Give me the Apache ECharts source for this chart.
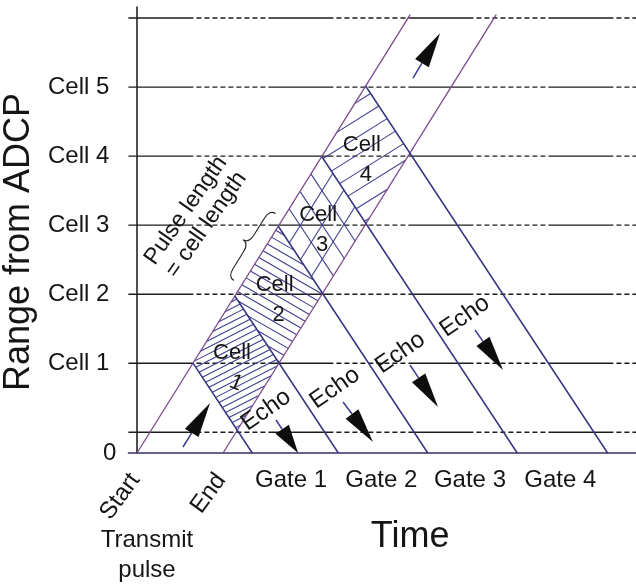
<!DOCTYPE html>
<html><head><meta charset="utf-8">
<script src="https://cdn.jsdelivr.net/npm/echarts@6/dist/echarts.min.js"></script>
<style>html,body{margin:0;padding:0;background:#fff}#chart{width:636px;height:586px}</style>
</head><body><div id="chart"></div>
<script>
// ---------------- data (time in pulse lengths, range in cell lengths) ----------------
const rangeLines = [0.3, 1.3, 2.3, 3.3, 4.3, 5.3, 6.3];
const yLabelValues = [0, 1.3, 2.3, 3.3, 4.3, 5.3];
const yLabelTexts = ['0', 'Cell 1', 'Cell 2', 'Cell 3', 'Cell 4', 'Cell 5'];
const pulseTimes = [0, 1];
const pulseNames = ['Start', 'End'];
const pulseRise = 2.0;          // range gained per unit time by the outgoing pulse
const pulseTop = 6.35;          // range where the pulse lines end
const echoBaseTimes = [1.34, 2.34, 3.38, 4.42, 5.47]; // where echo lines reach the transducer
const echoFall = 1.89;          // range lost per unit time by the echo
const gateNames = ['Gate 1', 'Gate 2', 'Gate 3', 'Gate 4'];
const gateLabelTimes = [1.79, 2.84, 3.87, 4.92];
const hatchedCells = ['Cell 1', 'Cell 2', 'Cell 3', 'Cell 4'];
const upArrows = [[0.535, 0.087, 0.849, 0.724], [3.208, 5.43, 3.522, 6.08]];
const echoArrows = [[1.616, 0.478, 1.872, 0.0], [2.395, 0.739, 2.743, 0.159],
                    [3.173, 1.275, 3.499, 0.666], [3.929, 1.782, 4.254, 1.202]];
const echoLabelPos = [[1.50, 0.62], [2.30, 0.94], [3.06, 1.45], [3.81, 1.98]];
const pulseNote = 'Pulse length\n= cell length';
const pulseNotePos = [0.686, 3.41];
const transmitNote = 'Transmit\npulse';
const transmitNotePos = [0.116, -1.48];
const braceRanges = [2.43, 3.40];

// ---------------- styles ----------------
const FONT = '"Liberation Sans", Arial, Helvetica, sans-serif';
const TXT = '#151515';
const H_COLOR = '#1c1c1c';
const PULSE_COLOR = '#7b4a8c';
const ECHO_COLOR = '#35357f';
const HATCH_COLOR = '#3f3f8f';
const hatchStyles = [
  {angles: [27], spacing: 6},
  {angles: [-30], spacing: 8},
  {lattice: 4},
  {angles: [32], spacing: 15}
];
const DASH = [65].concat(Array(9).fill([3, 5]).flat(), [3]);

// ---------------- geometry helpers ----------------
function isect(p, T) { // pulse line starting at p meets echo line ending at T
  const t = (echoFall * T + pulseRise * p) / (pulseRise + echoFall);
  return [t, pulseRise * (t - p)];
}
function hatchSegs(poly, angleDeg, spacing) {
  const a = angleDeg * Math.PI / 180;
  const n = [Math.sin(a), Math.cos(a)];
  const proj = poly.map(p => p[0] * n[0] + p[1] * n[1]);
  const lo = Math.min(...proj), hi = Math.max(...proj);
  const segs = [];
  for (let o = lo + spacing * 0.6; o < hi; o += spacing) {
    const pts = [];
    for (let i = 0; i < poly.length; i++) {
      const j = (i + 1) % poly.length;
      const da = proj[i] - o, db = proj[j] - o;
      if ((da < 0) !== (db < 0)) {
        const s = da / (da - db);
        pts.push([poly[i][0] + (poly[j][0] - poly[i][0]) * s, poly[i][1] + (poly[j][1] - poly[i][1]) * s]);
      }
    }
    if (pts.length >= 2) segs.push(pts);
  }
  return segs;
}
function lineEl(p, q, color, w) {
  return {type: 'line', shape: {x1: p[0], y1: p[1], x2: q[0], y2: q[1]}, style: {stroke: color, lineWidth: w}};
}
function textEl(x, y, text, size, rot, extra) {
  return Object.assign({type: 'text', x: x, y: y, rotation: rot || 0,
    style: Object.assign({text: text, fill: TXT, fontSize: size, fontFamily: FONT,
      align: 'center', verticalAlign: 'middle'}, extra || {})});
}

// ---------------- series ----------------
const series = [];
const xMin = -0.1, xMax = 5.8;
rangeLines.forEach(r => series.push({
  type: 'line', silent: true, symbol: 'none', animation: false, z: 1,
  data: [[xMin, r], [xMax, r]],
  lineStyle: {color: H_COLOR, width: 1.4, type: DASH}
}));
pulseTimes.forEach(p => series.push({
  type: 'line', silent: true, symbol: 'none', animation: false, z: 4,
  data: [[p, 0], [p + pulseTop / pulseRise, pulseTop]],
  lineStyle: {color: PULSE_COLOR, width: 1.3}
}));
echoBaseTimes.forEach(T => series.push({
  type: 'line', silent: true, symbol: 'none', animation: false, z: 4,
  data: [isect(pulseTimes[0], T), [T, 0]],
  lineStyle: {color: ECHO_COLOR, width: 1.5}
}));

// hatched cells
series.push({
  type: 'custom', animation: false, z: 3, silent: true,
  data: hatchedCells.map((c, i) => {
    const a = isect(pulseTimes[0], echoBaseTimes[i]), b = isect(pulseTimes[1], echoBaseTimes[i + 1]);
    return [(a[0] + b[0]) / 2, (a[1] + b[1]) / 2, i];
  }),
  renderItem: function (params, api) {
    const i = api.value(2);
    const V = [isect(pulseTimes[0], echoBaseTimes[i]), isect(pulseTimes[0], echoBaseTimes[i + 1]),
               isect(pulseTimes[1], echoBaseTimes[i + 1]), isect(pulseTimes[1], echoBaseTimes[i])].map(v => api.coord(v));
    const st = hatchStyles[i];
    const children = [];
    if (st.lattice) {
      const n = st.lattice;
      const P = (u, v) => [V[0][0] + u * (V[1][0] - V[0][0]) + v * (V[3][0] - V[0][0]),
                           V[0][1] + u * (V[1][1] - V[0][1]) + v * (V[3][1] - V[0][1])];
      for (let k = 1; k < n; k++) {
        children.push(lineEl(P(k / n, 0), P(k / n, 1), HATCH_COLOR, 1.1));
        children.push(lineEl(P(0, k / n), P(1, k / n), HATCH_COLOR, 1.1));
      }
    } else {
      st.angles.forEach(a => hatchSegs(V, a, st.spacing).forEach(s => children.push(lineEl(s[0], s[1], HATCH_COLOR, 1.1))));
    }
    const c = api.coord([api.value(0), api.value(1)]);
    const parts = hatchedCells[i].split(' ');
    children.push(textEl(c[0] - 4, c[1] - 10, parts[0], 22, 0));
    children.push(textEl(c[0], c[1] + 20, parts[1], 22, i === 0 ? -0.4 : 0));
    return {type: 'group', children: children};
  }
});

// arrows
function arrowSeries(list) {
  return {
    type: 'custom', animation: false, z: 6, silent: true,
    data: list,
    renderItem: function (params, api) {
      const p = api.coord([api.value(0), api.value(1)]);
      const q = api.coord([api.value(2), api.value(3)]);
      const L = Math.hypot(q[0] - p[0], q[1] - p[1]);
      const d = [(q[0] - p[0]) / L, (q[1] - p[1]) / L];
      const nrm = [-d[1], d[0]];
      const hl = Math.min(35, L * 0.72), hw = 8;
      const base = [q[0] - d[0] * hl, q[1] - d[1] * hl];
      return {type: 'group', children: [
        lineEl(p, base, '#3a3a90', 1.5),
        {type: 'polygon', shape: {points: [q, [base[0] + nrm[0] * hw, base[1] + nrm[1] * hw], [base[0] - nrm[0] * hw, base[1] - nrm[1] * hw]]},
         style: {fill: '#0d0d0d'}}
      ]};
    }
  };
}
series.push(arrowSeries(upArrows));
series.push(arrowSeries(echoArrows));

// annotations
series.push({
  type: 'custom', animation: false, z: 7, silent: true,
  data: echoLabelPos,
  renderItem: function (params, api) {
    const c = api.coord([api.value(0), api.value(1)]);
    return textEl(c[0], c[1], 'Echo', 24, 35 * Math.PI / 180);
  }
});
series.push({
  type: 'custom', animation: false, z: 7, silent: true, clip: false,
  data: [pulseNotePos.concat(0), transmitNotePos.concat(1)],
  renderItem: function (params, api) {
    const c = api.coord([api.value(0), api.value(1)]);
    if (api.value(2) === 0) return textEl(c[0], c[1], pulseNote, 23, 55 * Math.PI / 180, {lineHeight: 25});
    return textEl(c[0], c[1], transmitNote, 24, 0, {lineHeight: 30});
  }
});
// rotated Start / End labels under the transmit pulse ticks
series.push({
  type: 'custom', animation: false, z: 7, silent: true, clip: false,
  data: pulseTimes.map((t, i) => [t, 0, i]),
  renderItem: function (params, api) {
    const c = api.coord([api.value(0), api.value(1)]);
    return textEl(c[0] - 2, c[1] + 23, pulseNames[api.value(2)], 24, 54 * Math.PI / 180, {align: 'right'});
  }
});
// brace along the pulse start line
series.push({
  type: 'custom', animation: false, z: 7, silent: true,
  data: [[braceRanges[0] / pulseRise, braceRanges[0], braceRanges[1] / pulseRise, braceRanges[1]]],
  renderItem: function (params, api) {
    const a = api.coord([api.value(0), api.value(1)]);
    const b = api.coord([api.value(2), api.value(3)]);
    const L = Math.hypot(b[0] - a[0], b[1] - a[1]);
    const u = [(b[0] - a[0]) / L, (b[1] - a[1]) / L];
    let n = [u[1], -u[0]];
    if (n[0] > 0) n = [-n[0], -n[1]];
    const off = 9, w = 7;
    const P = (s, k) => [a[0] + u[0] * s * L + n[0] * (off + k), a[1] + u[1] * s * L + n[1] * (off + k)];
    const pts = [P(0, 0), P(0, w), P(0.12, w), P(0.38, w), P(0.5, w), P(0.5, 2 * w), P(0.5, w), P(0.62, w), P(0.88, w), P(1, w), P(1, 0)];
    const f = p => p[0].toFixed(1) + ' ' + p[1].toFixed(1);
    const d = 'M' + f(pts[0]) + ' Q' + f(pts[1]) + ' ' + f(pts[2]) + ' L' + f(pts[3]) + ' Q' + f(pts[4]) + ' ' + f(pts[5]) +
      ' Q' + f(pts[6]) + ' ' + f(pts[7]) + ' L' + f(pts[8]) + ' Q' + f(pts[9]) + ' ' + f(pts[10]);
    return {type: 'path', shape: {pathData: d}, style: {stroke: '#222', lineWidth: 1.1, fill: null}};
  }
});

const chart = echarts.init(document.getElementById('chart'), null, {renderer: 'canvas'});
chart.setOption({
  animation: false,
  backgroundColor: '#fff',
  grid: {left: 128.4, right: 0, top: 7, bottom: 133, containLabel: false, outerBoundsMode: 'none'},
  xAxis: [{
    type: 'value', min: xMin, max: xMax, position: 'bottom',
    axisLine: {show: true, onZero: false, lineStyle: {color: '#3a2f6a', width: 1.5}},
    axisTick: {show: false}, splitLine: {show: false},
    axisLabel: {show: false}
  }, {
    type: 'value', min: xMin, max: xMax, position: 'bottom',
    axisLine: {show: false}, axisTick: {show: false}, splitLine: {show: false},
    axisLabel: {customValues: gateLabelTimes, margin: 15, fontSize: 24, color: TXT, fontFamily: FONT,
      formatter: v => gateNames[gateLabelTimes.findIndex(p => Math.abs(p - v) < 1e-6)] || ''},
    name: 'Time', nameLocation: 'middle', nameGap: 66,
    nameTextStyle: {fontSize: 36, color: TXT, fontFamily: FONT, padding: [0, 0, 0, 56]}
  }],
  yAxis: {
    type: 'value', min: 0, max: 6.46,
    axisLine: {show: true, onZero: true, onZeroAxisIndex: 0, lineStyle: {color: '#151515', width: 1.5}},
    axisTick: {show: false}, splitLine: {show: false},
    axisLabel: {customValues: yLabelValues, margin: 12, fontSize: 24, color: TXT, fontFamily: FONT,
      formatter: v => {
        const i = yLabelValues.findIndex(p => Math.abs(p - v) < 1e-6);
        if (i < 0) return '';
        return i === 0 ? yLabelTexts[i] : '{c|' + yLabelTexts[i] + '}';
      },
      rich: {c: {fontSize: 24, color: TXT, fontFamily: FONT, padding: [0, 7, 0, 0]}}},
    name: 'Range from ADCP', nameLocation: 'middle', nameGap: 88,
    nameTextStyle: {fontSize: 36, color: TXT, fontFamily: FONT, padding: [0, 24, 0, 0]}
  },
  series: series
});
</script></body></html>
